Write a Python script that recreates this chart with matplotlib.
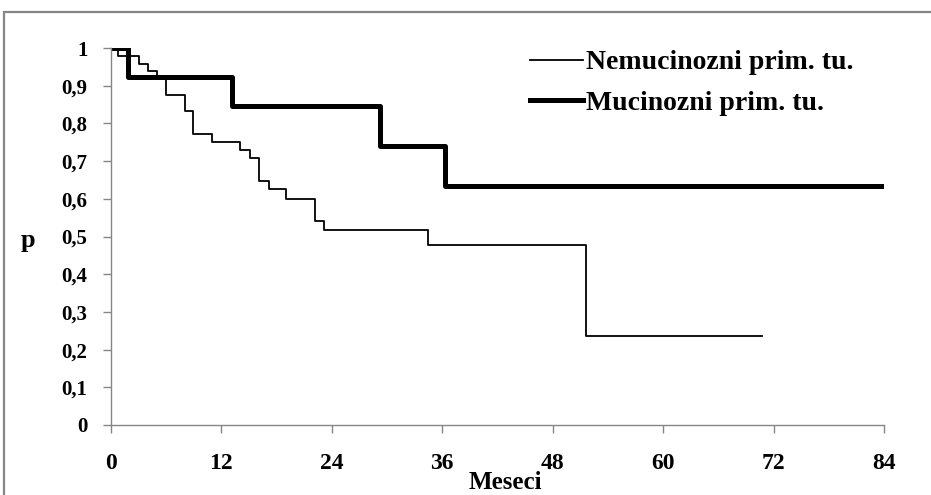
import matplotlib.pyplot as plt
from matplotlib.patches import Rectangle

# survival curves (months, probability)
nemuc_t = [0, 0.8, 3.0, 4.0, 5.0, 6.0, 8.0, 8.9, 11.0, 14.0, 15.1, 16.1, 17.2,
           19.0, 22.2, 23.2, 34.4, 51.6, 70.7]
nemuc_p = [1, 0.979, 0.958, 0.938, 0.917, 0.875, 0.833, 0.771, 0.75, 0.729,
           0.708, 0.646, 0.625, 0.6, 0.542, 0.517, 0.477, 0.237, 0.237]

muc_t = [0, 1.9, 13.1, 29.2, 36.3, 84]
muc_p = [1, 0.923, 0.846, 0.740, 0.635, 0.635]

x_ticks = [0, 12, 24, 36, 48, 60, 72, 84]
y_ticks = [0, 0.1, 0.2, 0.3, 0.4, 0.5, 0.6, 0.7, 0.8, 0.9, 1]
y_labels = ['0', '0,1', '0,2', '0,3', '0,4', '0,5', '0,6', '0,7', '0,8', '0,9', '1']

plt.rcParams['font.family'] = 'Liberation Serif'
plt.rcParams['font.weight'] = 'bold'

fig = plt.figure(figsize=(9.31, 4.95), dpi=100)
W, H = 931, 495

# outer chart border
fig.patches.append(Rectangle((4 / W, -0.1), 1.2, 1 - 12 / H + 0.1,
                             transform=fig.transFigure, fill=False,
                             edgecolor='#868686', linewidth=1.6))

ax = fig.add_axes([111 / W, 1 - 425 / H, (884 - 111) / W, (425 - 48) / H])

ax.step(nemuc_t, nemuc_p, where='post', color='black', linewidth=1.3,
        label='Nemucinozni prim. tu.')
ax.step(muc_t, muc_p, where='post', color='black', linewidth=3.6,
        label='Mucinozni prim. tu.')

ax.set_xlim(0, 84)
ax.set_ylim(0, 1)
ax.set_xticks(x_ticks)
ax.set_yticks(y_ticks)
ax.set_yticklabels(y_labels)

for side in ['top', 'right']:
    ax.spines[side].set_visible(False)
for side in ['left', 'bottom']:
    ax.spines[side].set_color('#868686')
    ax.spines[side].set_linewidth(1.0)

ax.tick_params(axis='both', direction='out', color='#868686', width=1.0)
ax.tick_params(axis='y', length=6, pad=11, labelsize=15)
ax.tick_params(axis='x', length=6, pad=14, labelsize=17)

ax.set_xlabel('Meseci', fontsize=18, fontweight='bold', va='center')
ax.xaxis.set_label_coords(0.51, -0.152)
ax.set_ylabel('p', fontsize=19, fontweight='bold', rotation=0,
              va='center', ha='center')
ax.yaxis.set_label_coords(-0.107, 0.49)

ax.legend(loc='upper left', bbox_to_anchor=(530 / W, 1 - 50 / H),
          bbox_transform=fig.transFigure, frameon=False, fontsize=20,
          handlelength=1.9, handletextpad=0.1, labelspacing=0.55,
          borderpad=0, borderaxespad=0)

fig.savefig('out.png', dpi=100)
